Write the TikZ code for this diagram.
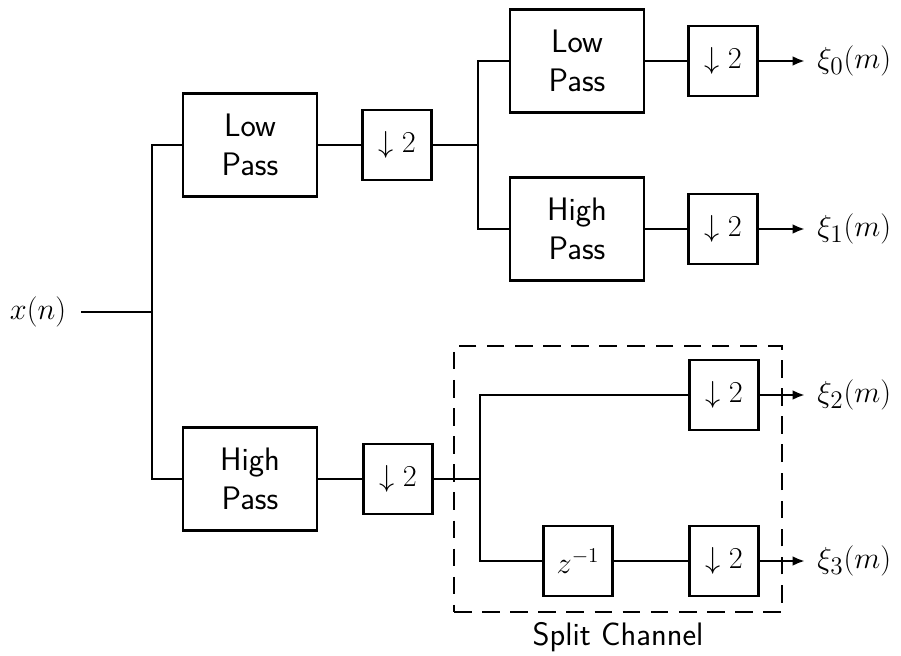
\documentclass[tikz,border=0pt]{standalone}
\usepackage{amsmath}
\usepackage{tikz}
\usetikzlibrary{
    arrows.meta,
    positioning
}

\tikzset{
    filterbox/.style={rectangle, draw, line width=1.5pt, minimum width=2.68cm,
        minimum height=2.06cm, align=center, inner sep=0pt,
        font=\sffamily\fontsize{18.5}{22}\selectfont},
    downbox/.style={rectangle, draw, line width=1.5pt, minimum width=1.38cm,
        minimum height=1.4cm, inner sep=0pt, font=\fontsize{18.5}{21}\selectfont},
    sigline/.style={line width=1.5pt},
    sigarrow/.style={line width=1.5pt, -{Latex[length=7pt, width=5.5pt]}},
    siglabel/.style={inner sep=0pt, outer sep=7pt, font=\fontsize{19}{22}\selectfont}
}

\begin{document}
\begin{tikzpicture}[x=0.02cm, y=-0.02cm]
    \useasboundingbox (0,0) rectangle (901,655);

    % Input and first split
    \node[siglabel, outer sep=0pt] (xn) at (38,312) {$x(n)$};
    \coordinate (j1) at (152,312);
    \node[filterbox] (lp1) at (250,145) {Low\\Pass};
    \node[filterbox] (hp1) at (250,479) {High\\Pass};
    \node[downbox] (ds1) at (397,145) {$\downarrow 2$};
    \node[downbox] (ds4) at (398,479) {$\downarrow 2$};

    \draw[sigline, shorten <=0.3cm] (xn.east) -- (j1);
    \draw[sigline] (lp1.west) -| (j1) |- (hp1.west);
    \draw[sigline] (lp1) -- (ds1);
    \draw[sigline] (hp1) -- (ds4);

    % Upper branch
    \coordinate (j2) at (478,145);
    \node[filterbox] (lp2) at (577,61) {Low\\Pass};
    \node[filterbox] (hp2) at (577,229) {High\\Pass};
    \node[downbox] (ds2) at (723,61) {$\downarrow 2$};
    \node[downbox] (ds3) at (723,229) {$\downarrow 2$};
    \node[siglabel, anchor=west] (xi0) at (805,61) {$\xi_0(m)$};
    \node[siglabel, anchor=west] (xi1) at (805,229) {$\xi_1(m)$};

    \draw[sigline] (ds1.east) -- (j2);
    \draw[sigline] (lp2.west) -| (j2) |- (hp2.west);
    \draw[sigline] (lp2) -- (ds2);
    \draw[sigline] (hp2) -- (ds3);
    \draw[sigarrow] (ds2.east) -- (xi0.west);
    \draw[sigarrow] (ds3.east) -- (xi1.west);

    % Split channel
    \node[draw, line width=1.5pt, dash pattern=on 10pt off 6pt, minimum width=6.56cm,
          minimum height=5.32cm, inner sep=0pt] (split) at (618,479) {};
    \node[below=0.05cm of split, font=\sffamily\fontsize{18.5}{22}\selectfont] (splitlabel) {Split Channel};
    \coordinate (j3) at (480,479);
    \node[downbox] (ds5) at (724,395) {$\downarrow 2$};
    \node[downbox] (zd) at (578,561) {$z^{-1}$};
    \node[downbox] (ds6) at (724,561) {$\downarrow 2$};
    \node[siglabel, anchor=west] (xi2) at (805,395) {$\xi_2(m)$};
    \node[siglabel, anchor=west] (xi3) at (805,561) {$\xi_3(m)$};

    \draw[sigline] (ds4.east) -- (j3);
    \draw[sigline] (ds5.west) -| (j3) |- (zd.west);
    \draw[sigline] (zd) -- (ds6);
    \draw[sigarrow] (ds5.east) -- (xi2.west);
    \draw[sigarrow] (ds6.east) -- (xi3.west);

\end{tikzpicture}
\end{document}
